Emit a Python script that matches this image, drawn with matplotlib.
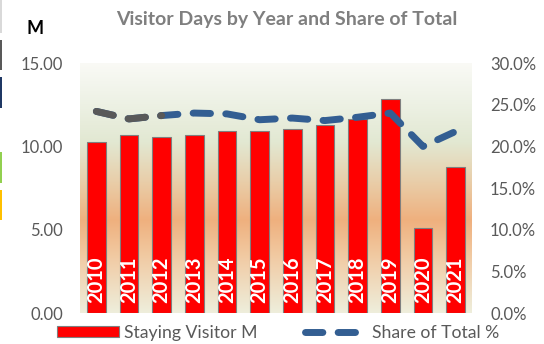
import numpy as np
import matplotlib
matplotlib.use("Agg")
import matplotlib.pyplot as plt
from matplotlib.colors import to_rgb
from matplotlib.lines import Line2D
from matplotlib.patches import Patch, Rectangle
from matplotlib.ticker import FixedLocator, FuncFormatter

plt.rcParams['font.family'] = ['Lato', 'DejaVu Sans']

years = ['2010', '2011', '2012', '2013', '2014', '2015',
         '2016', '2017', '2018', '2019', '2020', '2021']
staying_visitors = [10.25, 10.68, 10.58, 10.68, 10.92, 10.92,
                    11.04, 11.30, 11.65, 12.82, 5.13, 8.77]
share_of_total = [24.2, 23.3, 23.7, 24.0, 23.9, 23.2,
                  23.4, 23.1, 23.5, 24.0, 20.0, 21.8]
left_ticks = [0, 5, 10, 15]
right_ticks = [0, 5, 10, 15, 20, 25, 30]

tick_grey = '#595959'
line_blue = '#335E92'
line_grey = '#595959'

fig = plt.figure(figsize=(5.44, 3.44), dpi=100)
fig.patch.set_facecolor('white')
ax = fig.add_axes([80 / 544, 30.7 / 344, 392 / 544, 250.3 / 344])

# vertical background gradient inside the plot area
stops = [(0.00, '#EEEEDC'), (0.22, '#F1CBA4'), (0.37, '#EFB07E'),
         (0.52, '#E9CDA8'), (0.68, '#E2E8D2'), (0.85, '#EEF2E6'),
         (1.00, '#FAFAF6')]
pos = np.array([s[0] for s in stops])
cols = np.array([to_rgb(s[1]) for s in stops])
yy = np.linspace(0, 1, 256)
grad = np.stack([np.interp(yy, pos, cols[:, k]) for k in range(3)], axis=1)
ax.imshow(grad[::-1, None, :], extent=[0, 1, 0, 1], transform=ax.transAxes,
          aspect='auto', zorder=0, interpolation='bilinear')

x = np.arange(len(years))
ax.bar(x, staying_visitors, width=0.57, color='#FF0000',
       edgecolor='#7F7F7F', linewidth=0.8, zorder=2)
for xi, yr in zip(x, years):
    ax.text(xi, 0.6, yr, rotation=90, ha='center', va='bottom',
            color='white', fontsize=14.5, fontweight='bold', zorder=3)

ax.set_xlim(-0.5, len(years) - 0.5)
ax.set_ylim(0, 15)
ax.yaxis.set_major_locator(FixedLocator(left_ticks))
ax.yaxis.set_major_formatter(FuncFormatter(lambda v, p: '%.2f' % v))
ax.set_xticks([])
ax.tick_params(axis='y', length=0, pad=12, labelsize=12, labelcolor=tick_grey)
for sp in ax.spines.values():
    sp.set_visible(False)

ax2 = ax.twinx()
ax2.set_ylim(0, 30)
ax2.yaxis.set_major_locator(FixedLocator(right_ticks))
ax2.yaxis.set_major_formatter(FuncFormatter(lambda v, p: '%.1f%%' % v))
ax2.tick_params(axis='y', length=0, pad=13, labelsize=12, labelcolor=tick_grey)
for sp in ax2.spines.values():
    sp.set_visible(False)

dash = (2.5, 2.2)
ax2.plot(x, share_of_total, color=line_blue, lw=5, dashes=dash,
         dash_capstyle='round', solid_joinstyle='round', zorder=4)
# first two segments of the share line are drawn in grey
ax2.plot(x[:3], share_of_total[:3], color=line_grey, lw=5, dashes=dash,
         dash_capstyle='round', zorder=5)

fig.text(0.528, 1 - 19 / 344, 'Visitor Days by Year and Share of Total',
         ha='center', va='center', fontsize=14, fontweight='bold',
         color='#7F7F7F')
fig.text(35 / 544, 1 - 29 / 344, 'M', ha='center', va='center',
         fontsize=13, fontweight='bold', color='black')

handles = [Patch(facecolor='#FF0000', edgecolor='#7F7F7F', linewidth=0.8),
           Line2D([], [], color=line_blue, lw=5, dashes=dash,
                  dash_capstyle='round')]
fig.legend(handles, ['Staying Visitor M', 'Share of Total %'],
           loc='center', bbox_to_anchor=(0.512, 11 / 344), ncol=2,
           frameon=False, fontsize=12.7, labelcolor=tick_grey,
           handlelength=3.5, handleheight=0.6, handletextpad=0.3,
           columnspacing=2.7)

# thin coloured strips along the left edge
for y0, y1, c in [(0, 33, '#D9D9D9'), (40, 70, '#595959'),
                  (77, 108, '#1F3864'), (152, 183, '#92D050'),
                  (190, 220, '#FFC000')]:
    fig.add_artist(Rectangle((0, 1 - y1 / 344), 1.5 / 544, (y1 - y0) / 344,
                             transform=fig.transFigure, facecolor=c,
                             edgecolor='none'))

fig.savefig('out.png', dpi=100)
